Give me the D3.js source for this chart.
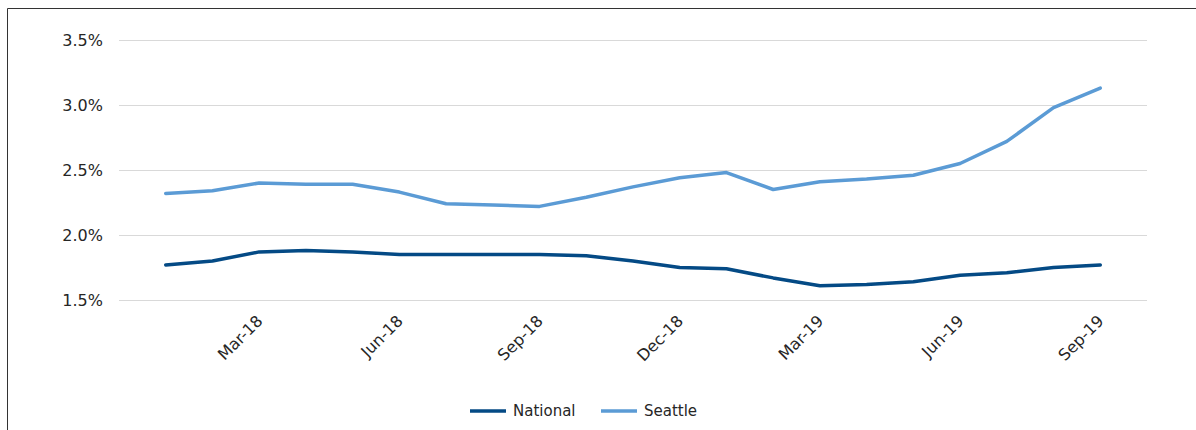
<!DOCTYPE html>
<html>
<head>
<meta charset="utf-8">
<script src="https://cdn.jsdelivr.net/npm/d3@7"></script>
<style>
  html, body { margin: 0; padding: 0; background: #fff; }
  svg { display: block; font-family: "DejaVu Sans", sans-serif; }
</style>
</head>
<body>
<svg id="chart" width="1196" height="430"></svg>
<script>
// Monthly rates, Jan-18 through Sep-19 (percent)
const months = ["Jan-18","Feb-18","Mar-18","Apr-18","May-18","Jun-18","Jul-18","Aug-18","Sep-18",
  "Oct-18","Nov-18","Dec-18","Jan-19","Feb-19","Mar-19","Apr-19","May-19","Jun-19","Jul-19","Aug-19","Sep-19"];
const nationalValues = [1.77, 1.80, 1.87, 1.88, 1.87, 1.85, 1.85, 1.85, 1.85,
  1.84, 1.80, 1.75, 1.74, 1.67, 1.61, 1.62, 1.64, 1.69, 1.71, 1.75, 1.77];
const seattleValues = [2.32, 2.34, 2.40, 2.39, 2.39, 2.33, 2.24, 2.23, 2.22,
  2.29, 2.37, 2.44, 2.48, 2.35, 2.41, 2.43, 2.46, 2.55, 2.72, 2.98, 3.13];
const tickLabels = ["Mar-18","Jun-18","Sep-18","Dec-18","Mar-19","Jun-19","Sep-19"];
const yTicks = [1.5, 2.0, 2.5, 3.0, 3.5];
const seriesNames = ["National", "Seattle"];
const seriesColors = ["#044a85", "#5b9bd5"];

const svg = d3.select("#chart");
const plotLeft = 119, plotRight = 1147, plotTop = 40, plotBottom = 300;
const textColor = "#262626";

const x = d3.scalePoint().domain(months).range([plotLeft, plotRight]).padding(1);
const y = d3.scaleLinear().domain([1.5, 3.5]).range([plotBottom, plotTop]);

// outer frame (top and left edges)
svg.append("path")
  .attr("d", "M7.5,430V8.5H1196")
  .attr("fill", "none").attr("stroke", "#333").attr("stroke-width", 1);

// horizontal gridlines
svg.append("g")
  .selectAll("line").data(yTicks).join("line")
  .attr("x1", plotLeft).attr("x2", plotRight)
  .attr("y1", d => Math.round(y(d)) + 0.5).attr("y2", d => Math.round(y(d)) + 0.5)
  .attr("stroke", "#d9d9d9").attr("stroke-width", 1);

// y axis labels
const yAxis = svg.append("g").attr("transform", `translate(${plotLeft},0)`)
  .call(d3.axisLeft(y).tickValues(yTicks).tickFormat(d => d.toFixed(1) + "%").tickSize(0).tickPadding(16));
yAxis.select(".domain").remove();
yAxis.selectAll("text")
  .attr("font-size", 16).attr("fill", textColor).attr("font-family", "DejaVu Sans, sans-serif");

// x axis labels, rotated
const xAxis = svg.append("g").attr("transform", `translate(0,${plotBottom})`)
  .call(d3.axisBottom(x).tickValues(tickLabels).tickSize(0).tickPadding(0));
xAxis.select(".domain").remove();
xAxis.selectAll("text")
  .attr("font-size", 16).attr("fill", textColor).attr("font-family", "DejaVu Sans, sans-serif")
  .attr("text-anchor", "end")
  .attr("dy", null).attr("y", 0)
  .attr("transform", "translate(4,22) rotate(-45)");

// series lines
const line = d3.line().x((d, i) => x(months[i])).y(d => y(d));
[nationalValues, seattleValues].forEach((vals, k) => {
  svg.append("path")
    .datum(vals)
    .attr("d", line)
    .attr("fill", "none")
    .attr("stroke", seriesColors[k])
    .attr("stroke-width", 3.5)
    .attr("stroke-linejoin", "round")
    .attr("stroke-linecap", "round");
});

// legend
const legendX = [470, 601];
const legend = svg.append("g");
seriesNames.forEach((name, k) => {
  legend.append("line")
    .attr("x1", legendX[k]).attr("x2", legendX[k] + 36)
    .attr("y1", 411).attr("y2", 411)
    .attr("stroke", seriesColors[k]).attr("stroke-width", 3.5);
  legend.append("text")
    .attr("x", legendX[k] + 43).attr("y", 416)
    .attr("font-size", 15).attr("fill", textColor)
    .text(name);
});
</script>
</body>
</html>
